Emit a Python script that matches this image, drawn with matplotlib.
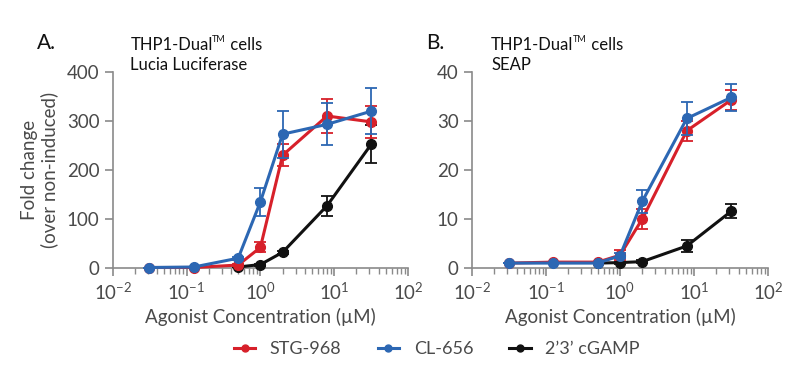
import matplotlib
matplotlib.use("Agg")
import matplotlib.pyplot as plt
import numpy as np
from matplotlib.ticker import LogLocator, FixedLocator, NullFormatter
from matplotlib.lines import Line2D

plt.rcParams['font.family'] = ['Lato', 'DejaVu Sans']
plt.rcParams['mathtext.fontset'] = 'custom'
plt.rcParams['mathtext.rm'] = 'Lato'
plt.rcParams['mathtext.it'] = 'Lato'
plt.rcParams['mathtext.bf'] = 'Lato:bold'

conc = [0.03125, 0.125, 0.5, 1, 2, 8, 32]

# Panel A: Lucia Luciferase
stg_a = [1, 1, 6, 42, 230, 310, 298]
stg_a_err = [0, 0, 2, 10, 22, 35, 32]
cl_a = [1, 2, 20, 135, 273, 293, 320]
cl_a_err = [0, 0, 3, 29, 48, 43, 47]
cg_a_x = [0.5, 1, 2, 8, 32]
cg_a = [2, 7, 32, 127, 253]
cg_a_err = [0, 2, 3, 20, 39]

# Panel B: SEAP
stg_b = [1, 1.2, 1.2, 2.6, 10, 28, 34.3]
stg_b_err = [0, 0, 0, 1, 2, 2, 2]
cl_b = [1, 1, 1, 2.5, 13.6, 30.5, 34.8]
cl_b_err = [0, 0, 0, 0.5, 2.4, 3.4, 2.7]
cg_b_x = [0.5, 1, 2, 8, 32]
cg_b = [1, 1.1, 1.3, 4.5, 11.6]
cg_b_err = [0, 0.2, 0.3, 1.2, 1.4]

labels = ['STG-968', 'CL-656', "2\u20193\u2019 cGAMP"]
colors = ['#d7202a', '#2c67b3', '#111111']
xticklabels = [r'$\mathrm{10^{-2}}$', r'$\mathrm{10^{-1}}$', r'$\mathrm{10^{0}}$',
               r'$\mathrm{10^{1}}$', r'$\mathrm{10^{2}}$']

fig = plt.figure(figsize=(8, 3.7), dpi=100)
axA = fig.add_axes([0.141, 0.2757, 0.369, 0.53])
axB = fig.add_axes([0.590, 0.2757, 0.370, 0.53])

gray = '#8a8a8a'
tickcol = '#4a4a4a'

def style(ax, ymax, ystep):
    ax.set_xscale('log')
    ax.set_xlim(0.01, 100)
    ax.set_ylim(0, ymax)
    ax.set_yticks(np.arange(0, ymax + 1e-9, ystep))
    ax.xaxis.set_major_locator(FixedLocator([0.01, 0.1, 1, 10, 100]))
    ax.xaxis.set_minor_locator(LogLocator(base=10, subs=np.arange(2, 10)))
    ax.xaxis.set_minor_formatter(NullFormatter())
    ax.set_xticklabels(xticklabels)
    for s in ['top', 'right']:
        ax.spines[s].set_visible(False)
    for s in ['left', 'bottom']:
        ax.spines[s].set_color(gray)
        ax.spines[s].set_linewidth(1.2)
    ax.tick_params(axis='both', which='major', direction='out', length=6, width=1.2,
                   color=gray, labelcolor=tickcol, labelsize=13.5)
    ax.tick_params(axis='x', which='minor', direction='out', length=4, width=1.0, color=gray)
    ax.set_xlabel('Agonist Concentration (\u00b5M)', fontsize=13.5, color=tickcol, labelpad=4)

def plot_series(ax, x, y, e, c, lab, z):
    ax.errorbar(x, y, yerr=e, color=c, lw=2.2, marker='o', ms=7, capsize=4,
                elinewidth=1.3, capthick=1.3, label=lab, zorder=z, clip_on=False)

plot_series(axA, cg_a_x, cg_a, cg_a_err, colors[2], labels[2], 3)
plot_series(axA, conc, stg_a, stg_a_err, colors[0], labels[0], 4)
plot_series(axA, conc, cl_a, cl_a_err, colors[1], labels[1], 5)
style(axA, 400, 100)
axA.set_ylabel('Fold change\n(over non-induced)', fontsize=13.5, color=tickcol, labelpad=6)

plot_series(axB, cg_b_x, cg_b, cg_b_err, colors[2], labels[2], 3)
plot_series(axB, conc, stg_b, stg_b_err, colors[0], labels[0], 4)
plot_series(axB, conc, cl_b, cl_b_err, colors[1], labels[1], 5)
style(axB, 40, 10)

renderer = fig.canvas.get_renderer()

def title_block(lx, x, letter, sub):
    fig.text(lx, 0.885, letter, fontsize=15, color='#111111', va='center')
    t1 = fig.text(x, 0.878, 'THP1-Dual', fontsize=12, color='#111111', va='center')
    bb = t1.get_window_extent(renderer).transformed(fig.transFigure.inverted())
    t2 = fig.text(bb.x1 - 0.001, 0.893, 'TM', fontsize=6.5, color='#111111', va='center')
    bb2 = t2.get_window_extent(renderer).transformed(fig.transFigure.inverted())
    fig.text(bb2.x1, 0.878, ' cells', fontsize=12, color='#111111', va='center')
    fig.text(x, 0.823, sub, fontsize=12, color='#111111', va='center')

title_block(0.046, 0.163, 'A.', 'Lucia Luciferase')
title_block(0.533, 0.614, 'B.', 'SEAP')

hs = [Line2D([], [], color=c, lw=2.2, marker='o', ms=5) for c in colors]
leg = fig.legend(hs, labels, loc='center', bbox_to_anchor=(0.546, 0.057), ncol=3,
                 frameon=False, fontsize=13, handlelength=1.2, columnspacing=2.0,
                 handletextpad=0.8)
for t in leg.get_texts():
    t.set_color(tickcol)

fig.savefig('out.png', dpi=100)
